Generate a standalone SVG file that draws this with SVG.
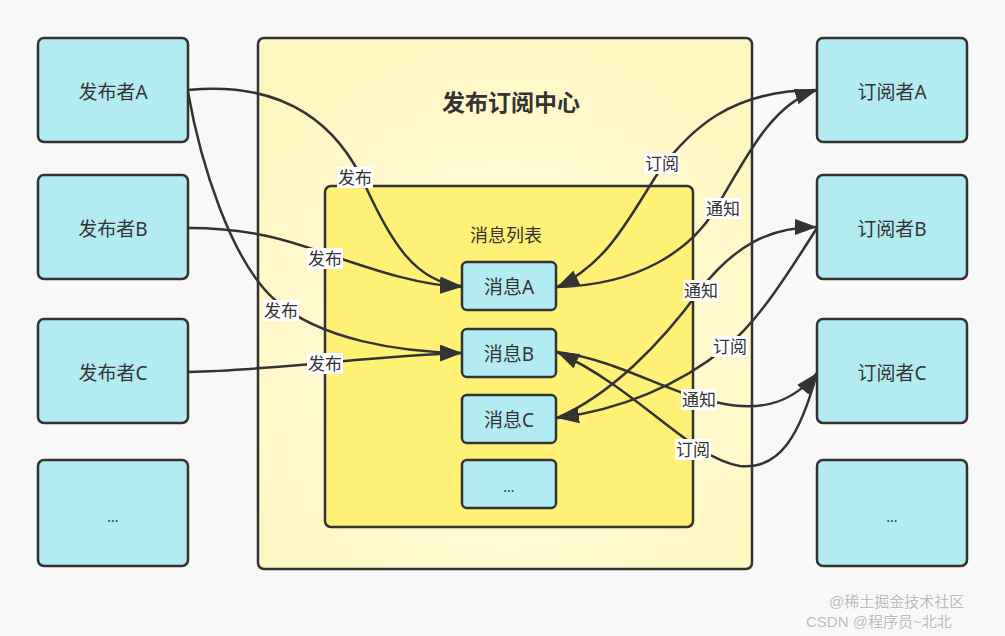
<svg xmlns="http://www.w3.org/2000/svg" width="1005" height="636" viewBox="0 0 1005 636">
<style>
.node rect{fill:#b2ebf2;stroke:#333;stroke-width:2.5}
.t{font-family:"Noto Sans","Noto Sans CJK SC",sans-serif;fill:#333;text-anchor:middle;dominant-baseline:central}
.nt{font-size:19px}
.lbl rect{fill:#fff}
.lbl text{font-family:"Noto Sans","Noto Sans CJK SC",sans-serif;font-size:17px;fill:#333;text-anchor:middle;dominant-baseline:central}
.edge{fill:none;stroke:#333;stroke-width:2.5;marker-end:url(#arr)}
.wm{font-family:"Liberation Sans","Noto Sans CJK SC",sans-serif;font-size:15px;fill:#bbb;stroke:#fff;stroke-width:0.6;paint-order:stroke}
</style>
<defs>
<marker id="arr" markerUnits="userSpaceOnUse" markerWidth="24" markerHeight="18" refX="22" refY="8" orient="auto">
<path d="M0,0 L22,8 L0,16 Z" fill="#333"/>
</marker>
<radialGradient id="og" cx="0.5" cy="0.6" r="0.6">
<stop offset="0.55" stop-color="#fffad2"/>
<stop offset="1" stop-color="#fff7c2"/>
</radialGradient>
</defs>
<rect width="1005" height="636" fill="#f8f8f8"/>

<g id="center">
<rect x="258" y="38" width="494" height="531" rx="6" fill="url(#og)" stroke="#333" stroke-width="2.5"/>
<text class="t" x="511" y="102" font-size="23" font-weight="bold">发布订阅中心</text>
</g>
<g id="msglist">
<rect x="325" y="186" width="368" height="341" rx="6" fill="#fff176" stroke="#333" stroke-width="2.5"/>
<text class="t" x="506" y="235" font-size="18">消息列表</text>
</g>

<g id="pubA" class="node"><rect x="38" y="38" width="150" height="104" rx="6"/><text class="t nt" x="113" y="92">发布者A</text></g>
<g id="pubB" class="node"><rect x="38" y="175" width="150" height="104" rx="6"/><text class="t nt" x="113" y="229">发布者B</text></g>
<g id="pubC" class="node"><rect x="38" y="319" width="150" height="104" rx="6"/><text class="t nt" x="113" y="373">发布者C</text></g>
<g id="pubMore" class="node"><rect x="38" y="460" width="150" height="106" rx="6"/><text class="t" x="113" y="516" font-size="14">...</text></g>

<g id="subA" class="node"><rect x="817" y="38" width="150" height="104" rx="6"/><text class="t nt" x="892" y="92">订阅者A</text></g>
<g id="subB" class="node"><rect x="817" y="175" width="150" height="104" rx="6"/><text class="t nt" x="892" y="229">订阅者B</text></g>
<g id="subC" class="node"><rect x="817" y="319" width="150" height="104" rx="6"/><text class="t nt" x="892" y="373">订阅者C</text></g>
<g id="subMore" class="node"><rect x="817" y="460" width="150" height="106" rx="6"/><text class="t" x="892" y="516" font-size="14">...</text></g>

<g id="msgA" class="node"><rect x="462" y="262" width="94" height="48" rx="5"/><text class="t nt" x="509" y="287">消息A</text></g>
<g id="msgB" class="node"><rect x="462" y="329" width="94" height="48" rx="5"/><text class="t nt" x="509" y="354">消息B</text></g>
<g id="msgC" class="node"><rect x="462" y="395" width="94" height="48" rx="5"/><text class="t nt" x="509" y="420">消息C</text></g>
<g id="msgMore" class="node"><rect x="462" y="460" width="94" height="48" rx="5"/><text class="t" x="509" y="486" font-size="14">...</text></g>

<g id="connectors">
<path class="edge" d="M188 90 C 290 80, 340 130, 365 185 C 390 240, 415 283, 462 286"/>
<path class="edge" d="M188 228 C 260 228, 300 245, 330 255 C 380 272, 420 285, 462 287"/>
<path class="edge" d="M188 92 C 200 160, 230 260, 275 300 C 320 340, 400 352, 462 353"/>
<path class="edge" d="M188 372 C 280 370, 380 355, 462 353"/>
<path class="edge" d="M817 90 C 730 90, 690 130, 660 170 C 630 215, 610 262, 557 287"/>
<path class="edge" d="M557 287 C 640 285, 690 250, 715 210 C 745 160, 770 105, 817 90"/>
<path class="edge" d="M557 418 C 610 395, 660 345, 700 290 C 735 245, 770 227, 817 227"/>
<path class="edge" d="M817 228 C 790 270, 760 320, 725 348 C 680 385, 620 410, 557 418"/>
<path class="edge" d="M557 352 C 620 360, 670 395, 720 403 C 765 413, 795 400, 817 373"/>
<path class="edge" d="M817 373 C 800 435, 780 470, 740 466 C 690 458, 640 390, 557 352"/>

<g class="lbl"><rect x="337" y="167" width="36" height="21"/><text x="355" y="177">发布</text></g>
<g class="lbl"><rect x="307" y="248" width="36" height="21"/><text x="325" y="258">发布</text></g>
<g class="lbl"><rect x="263" y="300" width="36" height="21"/><text x="281" y="310">发布</text></g>
<g class="lbl"><rect x="307" y="353" width="36" height="21"/><text x="325" y="363">发布</text></g>
<g class="lbl"><rect x="644" y="153" width="36" height="21"/><text x="662" y="163">订阅</text></g>
<g class="lbl"><rect x="705" y="198" width="36" height="21"/><text x="723" y="208">通知</text></g>
<g class="lbl"><rect x="683" y="280" width="36" height="21"/><text x="701" y="290">通知</text></g>
<g class="lbl"><rect x="712" y="336" width="36" height="21"/><text x="730" y="346">订阅</text></g>
<g class="lbl"><rect x="681" y="389" width="36" height="21"/><text x="699" y="399">通知</text></g>
<g class="lbl"><rect x="675" y="439" width="36" height="21"/><text x="693" y="449">订阅</text></g>
</g>

<text class="wm" x="829" y="607">@稀土掘金技术社区</text>
<text class="wm" x="806" y="627">CSDN @程序员~北北</text>
</svg>
